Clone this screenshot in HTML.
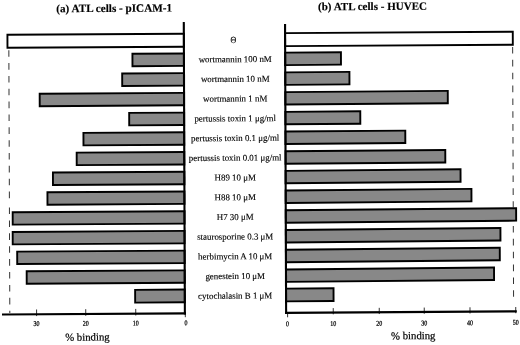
<!DOCTYPE html>
<html><head><meta charset="utf-8"><title>ATL cells binding</title>
<style>html,body{margin:0;padding:0;background:#fff}svg{display:block}text{font-family:"Liberation Serif",serif;fill:#000;stroke:#000;stroke-width:0.12px}.t{font-weight:bold;font-size:11.25px;stroke-width:0.15px}.l{font-size:8.9px;text-anchor:middle}.k{font-size:7.3px;text-anchor:middle;stroke-width:0.25px}.b{font-size:10.75px;stroke-width:0.2px}</style></head><body>
<svg width="520" height="345" viewBox="0 0 520 345">
<rect width="520" height="345" fill="#fff"/>
<g transform="matrix(1 -0.006 0.0037 1 -0.636 1.560)">
<text class="t" x="56.86" y="11.0" style="font-size:11.18px">(a) ATL cells - pICAM-1</text>
<text class="t" x="318.61" y="10.7" style="font-size:11.05px">(b) ATL cells - HUVEC</text>
<line x1="9.3" y1="48.7" x2="9.3" y2="200" stroke="#333" stroke-width="1" stroke-dasharray="6.6 6.25"/>
<line x1="9.3" y1="206" x2="9.3" y2="311.5" stroke="#333" stroke-width="1" stroke-dasharray="6.6 6.3"/>
<line x1="513.1" y1="48.5" x2="513.1" y2="209" stroke="#333" stroke-width="1" stroke-dasharray="6.6 6.25"/>
<line x1="513.1" y1="227.5" x2="513.1" y2="300" stroke="#333" stroke-width="1" stroke-dasharray="6.6 6.25"/>
<rect x="7.94" y="33.30" width="176.41" height="13.00" fill="#fff" stroke="#000" stroke-width="1.9"/>
<rect x="132.87" y="52.97" width="51.48" height="12.45" fill="#888888" stroke="#000" stroke-width="1.9"/>
<rect x="122.54" y="72.69" width="61.81" height="12.45" fill="#888888" stroke="#000" stroke-width="1.9"/>
<rect x="39.97" y="92.41" width="144.38" height="12.45" fill="#888888" stroke="#000" stroke-width="1.9"/>
<rect x="129.40" y="112.13" width="54.95" height="12.45" fill="#888888" stroke="#000" stroke-width="1.9"/>
<rect x="83.58" y="131.85" width="100.77" height="12.45" fill="#888888" stroke="#000" stroke-width="1.9"/>
<rect x="76.75" y="151.57" width="107.60" height="12.45" fill="#888888" stroke="#000" stroke-width="1.9"/>
<rect x="52.93" y="171.29" width="131.42" height="12.45" fill="#888888" stroke="#000" stroke-width="1.9"/>
<rect x="47.36" y="191.01" width="136.99" height="12.45" fill="#888888" stroke="#000" stroke-width="1.9"/>
<rect x="12.53" y="210.73" width="171.82" height="12.45" fill="#888888" stroke="#000" stroke-width="1.9"/>
<rect x="12.46" y="230.45" width="171.89" height="12.45" fill="#888888" stroke="#000" stroke-width="1.9"/>
<rect x="16.89" y="250.17" width="167.46" height="12.45" fill="#888888" stroke="#000" stroke-width="1.9"/>
<rect x="26.31" y="269.89" width="158.04" height="12.45" fill="#888888" stroke="#000" stroke-width="1.9"/>
<rect x="134.69" y="289.11" width="49.66" height="12.75" fill="#888888" stroke="#000" stroke-width="1.9"/>
</g>
<rect transform="matrix(1 -0.006 0.0037 1 -0.636 1.560)" x="285.60" y="33.30" width="227.69" height="13.00" fill="#fff" stroke="#000" stroke-width="1.9"/>
<rect transform="matrix(1 -0.0078 0.0037 1 -0.636 1.925)" x="285.60" y="52.97" width="55.77" height="12.45" fill="#888888" stroke="#000" stroke-width="1.9"/>
<rect transform="matrix(1 -0.0078 0.0037 1 -0.636 1.925)" x="285.60" y="72.69" width="64.19" height="12.45" fill="#888888" stroke="#000" stroke-width="1.9"/>
<rect transform="matrix(1 -0.0078 0.0037 1 -0.636 1.925)" x="285.60" y="92.41" width="162.47" height="12.45" fill="#888888" stroke="#000" stroke-width="1.9"/>
<rect transform="matrix(1 -0.0078 0.0037 1 -0.636 1.925)" x="285.60" y="112.13" width="74.90" height="12.45" fill="#888888" stroke="#000" stroke-width="1.9"/>
<rect transform="matrix(1 -0.0078 0.0037 1 -0.636 1.925)" x="285.60" y="131.85" width="119.83" height="12.45" fill="#888888" stroke="#000" stroke-width="1.9"/>
<rect transform="matrix(1 -0.0078 0.0037 1 -0.636 1.925)" x="285.60" y="151.57" width="159.75" height="12.45" fill="#888888" stroke="#000" stroke-width="1.9"/>
<rect transform="matrix(1 -0.009 0.0037 1 -0.636 2.118)" x="285.60" y="171.29" width="174.93" height="12.45" fill="#888888" stroke="#000" stroke-width="1.9"/>
<rect transform="matrix(1 -0.009 0.0037 1 -0.636 2.118)" x="285.60" y="191.01" width="185.76" height="12.45" fill="#888888" stroke="#000" stroke-width="1.9"/>
<rect transform="matrix(1 -0.009 0.0037 1 -0.636 2.118)" x="285.60" y="210.73" width="230.38" height="12.45" fill="#888888" stroke="#000" stroke-width="1.9"/>
<rect transform="matrix(1 -0.009 0.0037 1 -0.636 2.118)" x="285.60" y="230.45" width="214.61" height="12.45" fill="#888888" stroke="#000" stroke-width="1.9"/>
<rect transform="matrix(1 -0.009 0.0037 1 -0.636 2.118)" x="285.60" y="250.17" width="213.89" height="12.45" fill="#888888" stroke="#000" stroke-width="1.9"/>
<rect transform="matrix(1 -0.009 0.0037 1 -0.636 2.118)" x="285.60" y="269.89" width="208.06" height="12.45" fill="#888888" stroke="#000" stroke-width="1.9"/>
<rect transform="matrix(1 -0.009 0.0037 1 -0.636 2.118)" x="285.60" y="289.11" width="47.49" height="12.75" fill="#888888" stroke="#000" stroke-width="1.9"/>
<g transform="matrix(1 -0.006 0.0037 1 -0.636 1.560)">
<line x1="184.35" y1="21.5" x2="184.35" y2="314.05" stroke="#000" stroke-width="2.1"/>
<line x1="285.6" y1="24.1" x2="285.6" y2="314.05" stroke="#000" stroke-width="2.1"/>
<line x1="1.47" y1="312.95" x2="185.4" y2="312.95" stroke="#000" stroke-width="2.2"/>
<line x1="284.55" y1="312.95" x2="516.28" y2="312.95" stroke="#000" stroke-width="2.2"/>
<line x1="36.08" y1="308.15" x2="36.08" y2="314.75" stroke="#000" stroke-width="0.8"/>
<text class="k" x="36.04" y="324.7" textLength="6.0" lengthAdjust="spacingAndGlyphs">30</text>
<line x1="85.23" y1="308.15" x2="85.23" y2="314.75" stroke="#000" stroke-width="0.8"/>
<text class="k" x="85.19" y="324.7" textLength="6.0" lengthAdjust="spacingAndGlyphs">20</text>
<line x1="135.23" y1="308.15" x2="135.23" y2="314.75" stroke="#000" stroke-width="0.8"/>
<text class="k" x="135.19" y="324.7" textLength="6.0" lengthAdjust="spacingAndGlyphs">10</text>
<line x1="184.78" y1="312.95" x2="184.78" y2="316.75" stroke="#000" stroke-width="0.8"/>
<text class="k" x="185.34" y="324.7" textLength="3.0" lengthAdjust="spacingAndGlyphs">0</text>
<line x1="287.08" y1="312.95" x2="287.08" y2="317.45" stroke="#000" stroke-width="0.8"/>
<text class="k" x="287.04" y="326.4" textLength="3.0" lengthAdjust="spacingAndGlyphs">0</text>
<line x1="332.73" y1="308.55" x2="332.73" y2="314.75" stroke="#000" stroke-width="0.8"/>
<text class="k" x="332.69" y="326.4" textLength="6.0" lengthAdjust="spacingAndGlyphs">10</text>
<line x1="378.73" y1="308.55" x2="378.73" y2="314.75" stroke="#000" stroke-width="0.8"/>
<text class="k" x="378.69" y="326.4" textLength="6.0" lengthAdjust="spacingAndGlyphs">20</text>
<line x1="423.73" y1="308.55" x2="423.73" y2="314.75" stroke="#000" stroke-width="0.8"/>
<text class="k" x="423.69" y="326.4" textLength="6.0" lengthAdjust="spacingAndGlyphs">30</text>
<line x1="469.48" y1="308.55" x2="469.48" y2="314.75" stroke="#000" stroke-width="0.8"/>
<text class="k" x="469.44" y="326.4" textLength="6.0" lengthAdjust="spacingAndGlyphs">40</text>
<line x1="515.23" y1="308.55" x2="515.23" y2="314.75" stroke="#000" stroke-width="0.8"/>
<text class="k" x="515.19" y="326.4" textLength="6.0" lengthAdjust="spacingAndGlyphs">50</text>
<text class="b" x="64.59" y="339.6">% binding</text>
<text class="b" x="390.39" y="340.2">% binding</text>
<text class="l" x="233.89" y="42.90" style="font-size:9.3px" textLength="5.8" lengthAdjust="spacingAndGlyphs">Θ</text>
<text class="l" x="235.62" y="62.06">wortmannin 100 nM</text>
<text class="l" x="235.55" y="81.77">wortmannin 10 nM</text>
<text class="l" x="235.47" y="101.48">wortmannin 1 nM</text>
<text class="l" x="235.40" y="121.19">pertussis toxin 1 μg/ml</text>
<text class="l" x="235.33" y="140.90">pertussis toxin 0.1 μg/ml</text>
<text class="l" x="235.25" y="160.61">pertussis toxin 0.01 μg/ml</text>
<text class="l" x="235.18" y="180.32">H89 10 μM</text>
<text class="l" x="235.11" y="200.03">H88 10 μM</text>
<text class="l" x="235.04" y="219.74">H7 30 μM</text>
<text class="l" x="234.96" y="239.45">staurosporine 0.3 μM</text>
<text class="l" x="234.89" y="259.16">herbimycin A 10 μM</text>
<text class="l" x="234.82" y="278.87">genestein 10 μM</text>
<text class="l" x="234.74" y="298.58">cytochalasin B 1 μM</text>
</g></svg></body></html>
